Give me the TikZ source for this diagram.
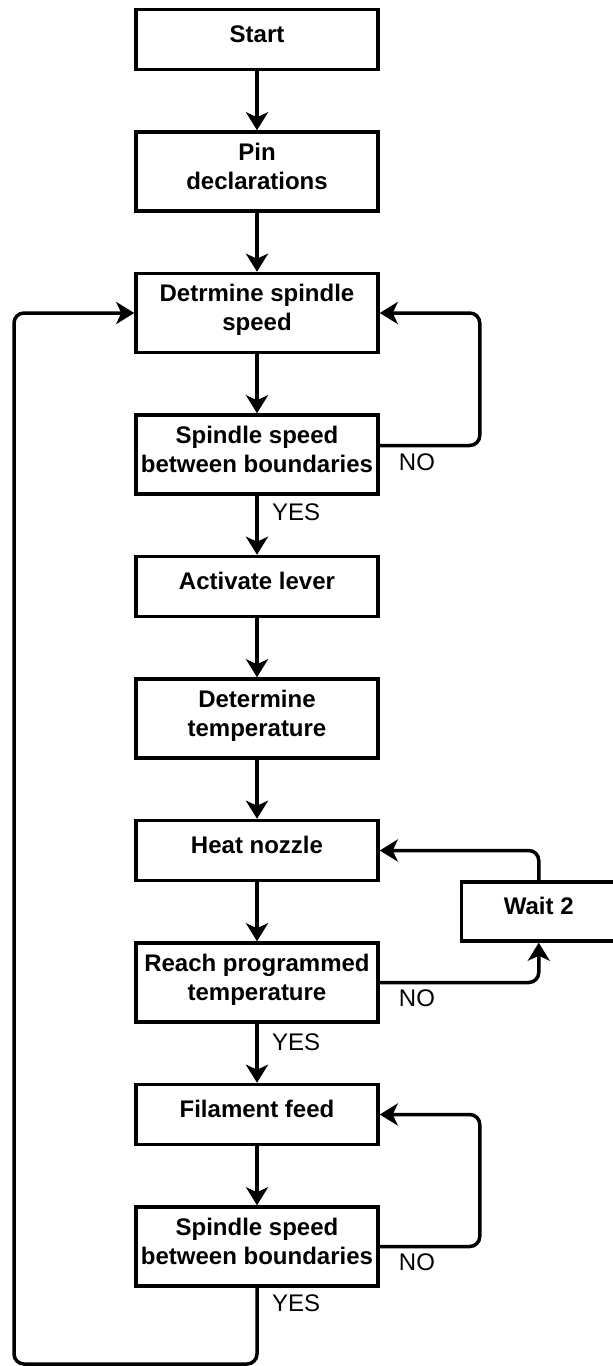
\documentclass[tikz,border=0pt]{standalone}
\usepackage{fontspec}
\setmainfont{Liberation Sans}
\usetikzlibrary{arrows.meta, positioning}

\tikzset{
  box/.style={rectangle, draw, line width=3.5pt, minimum width=242pt, minimum height=60pt,
    align=center, font=\fontsize{24}{29}\selectfont\bfseries, text depth=11pt},
  tallbox/.style={box, minimum height=79pt},
  line/.style={line width=3.5pt, rounded corners=10pt,
    -{Stealth[length=18pt, width=22pt, inset=5pt]}},
  lbl/.style={font=\fontsize{24}{29}\selectfont, inner sep=0pt, anchor=west}
}

\begin{document}
\begin{tikzpicture}[node distance=59pt]
\useasboundingbox (0pt,0pt) rectangle (613pt,-1366pt);

% main column
\node[box] (start) at (257pt,-39.5pt) {Start};
\node[tallbox, below=of start] (pins) {Pin\\declarations};
\node[tallbox, below=of pins] (detspeed) {Detrmine spindle\\speed};
\node[tallbox, below=of detspeed] (checkone) {Spindle speed\\between boundaries};
\node[box, below=of checkone] (lever) {Activate lever};
\node[tallbox, below=of lever] (dettemp) {Determine\\temperature};
\node[box, below=of dettemp] (heat) {Heat nozzle};
\node[tallbox, below=of heat] (reach) {Reach programmed\\temperature};
\node[box, below=of reach] (feed) {Filament feed};
\node[tallbox, below=of feed] (checktwo) {Spindle speed\\between boundaries};

% side box
\node[box, minimum width=154.5pt, minimum height=59pt] (wait) at (538.75pt,-911.5pt) {Wait 2};

\coordinate (loopbl) at (14pt,-1364pt);

% straight arrows
\foreach \a/\b in {start/pins, pins/detspeed, detspeed/checkone, checkone/lever,
  lever/dettemp, dettemp/heat, heat/reach, reach/feed, feed/checktwo}
  \draw[line] (\a) -- (\b);

% loops
\draw[line] ([yshift=9pt]checkone.east) -| ([xshift=100pt]detspeed.east) -- (detspeed.east);
\draw[line] (reach.east) -| (wait.south);
\draw[line] (wait.north) |- (heat.east);
\draw[line] (checktwo.east) -| ([xshift=100pt]feed.east) -- (feed.east);
\draw[line] (checktwo.south) |- (loopbl) |- (detspeed.west);

% labels
\node[lbl] (noone) at ([xshift=19pt,yshift=-8pt]checkone.east) {NO};
\node[lbl] (yesone) at ([xshift=15pt,yshift=-16pt]checkone.south) {YES};
\node[lbl] (notwo) at ([xshift=19pt,yshift=-16pt]reach.east) {NO};
\node[lbl] (yestwo) at ([xshift=15pt,yshift=-18pt]reach.south) {YES};
\node[lbl] (nothree) at ([xshift=19pt,yshift=-16pt]checktwo.east) {NO};
\node[lbl] (yesthree) at ([xshift=15pt,yshift=-15pt]checktwo.south) {YES};
\end{tikzpicture}
\end{document}
